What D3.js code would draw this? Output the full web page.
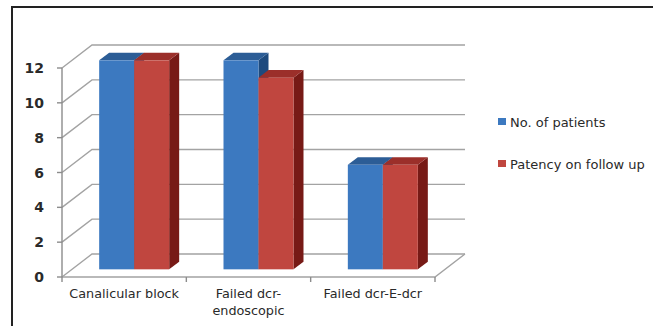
<!DOCTYPE html>
<html>
<head>
<meta charset="utf-8">
<script src="https://cdn.jsdelivr.net/npm/d3@7/dist/d3.min.js"></script>
<style>
  html, body { margin: 0; padding: 0; background: #fff; }
  svg { display: block; }
</style>
</head>
<body>
<svg id="chart" width="653" height="326"></svg>
<script>
// Outcome of cases by indication
const categories = [["Canalicular block"], ["Failed dcr-", "endoscopic"], ["Failed dcr-E-dcr"]];
const categoryKeys = ["Canalicular block", "Failed dcr-endoscopic", "Failed dcr-E-dcr"];
const seriesNames = ["No. of patients", "Patency on follow up"];
const noOfPatients = [12, 12, 6];
const patencyOnFollowUp = [12, 11, 6];
const yTicks = [0, 2, 4, 6, 8, 10, 12];

const seriesValues = [noOfPatients, patencyOnFollowUp];
const palette = [
  { front: "#3c79c0", top: "#2c5d96", side: "#1d4a7e" },
  { front: "#c0463f", top: "#9b2f2a", side: "#771a16" }
];

const svg = d3.select("#chart");

// Chart frame (open on the right and bottom)
svg.append("path")
  .attr("d", "M12,326 L12,7 L653,7")
  .attr("fill", "none").attr("stroke", "#222").attr("stroke-width", 2);

// Front plane of the 3-D box and depth vector
const plot = { left: 62, right: 435, bottom: 277 };
const depth = { dx: 30, dy: -23 };

const y = d3.scaleLinear().domain([0, 12]).range([plot.bottom, plot.bottom - 209]);
const x0 = d3.scaleBand().domain(categoryKeys).range([plot.left, plot.right])
  .paddingInner(0.437).paddingOuter(0.2185);
const x1 = d3.scaleBand().domain(seriesNames).range([0, x0.bandwidth()]);

const grid = svg.append("g").attr("fill", "none").attr("stroke", "#a3a3a3").attr("stroke-width", 1.4);

// Side wall and back wall gridlines
yTicks.forEach(t => {
  const yf = y(t), yb = y(t) + depth.dy;
  grid.append("path")
    .attr("d", `M${plot.left},${yf} L${plot.left + depth.dx},${yb} L${plot.right + depth.dx},${yb}`);
});

// Floor outline
grid.append("path")
  .attr("d", `M${plot.left},${plot.bottom} L${plot.right},${plot.bottom} L${plot.right + depth.dx},${plot.bottom + depth.dy}`);

// Value axis line and ticks
const axisG = svg.append("g").attr("fill", "none").attr("stroke", "#8c8c8c").attr("stroke-width", 1.4);
axisG.append("line").attr("x1", plot.left).attr("x2", plot.left)
  .attr("y1", y(12)).attr("y2", plot.bottom);
yTicks.forEach(t => {
  axisG.append("line").attr("x1", plot.left - 5).attr("x2", plot.left)
    .attr("y1", y(t)).attr("y2", y(t));
});

// Category axis ticks at band boundaries
d3.range(categoryKeys.length + 1).forEach(i => {
  const bx = plot.left + i * x0.step();
  axisG.append("line").attr("x1", bx).attr("x2", bx)
    .attr("y1", plot.bottom).attr("y2", plot.bottom + 5);
});

// Value labels
svg.append("g").selectAll("text").data(yTicks).join("text")
  .attr("x", 44).attr("y", d => y(d)).attr("dy", "0.36em")
  .attr("text-anchor", "end")
  .attr("font-family", "DejaVu Sans, sans-serif").attr("font-size", 14).attr("font-weight", "bold")
  .attr("fill", "#2a2a2a")
  .text(d => d);

// Bars: front face at 1/3 of the depth, back face at 2/3
const front = { dx: depth.dx / 3, dy: depth.dy / 3 };
const barDepth = { dx: depth.dx / 3, dy: depth.dy / 3 };
const bars = svg.append("g");
categoryKeys.forEach((cat, ci) => {
  seriesNames.forEach((s, si) => {
    const v = seriesValues[si][ci];
    const xl = x0(cat) + x1(s) + front.dx;
    const xr = xl + x1.bandwidth();
    const yt = y(v) + front.dy;
    const yb = y(0) + front.dy;
    const c = palette[si];
    const g = bars.append("g");
    // right side
    g.append("path")
      .attr("d", `M${xr},${yt} L${xr + barDepth.dx},${yt + barDepth.dy} L${xr + barDepth.dx},${yb + barDepth.dy} L${xr},${yb} Z`)
      .attr("fill", c.side);
    // top
    g.append("path")
      .attr("d", `M${xl},${yt} L${xl + barDepth.dx},${yt + barDepth.dy} L${xr + barDepth.dx},${yt + barDepth.dy} L${xr},${yt} Z`)
      .attr("fill", c.top);
    // front
    g.append("rect")
      .attr("x", xl).attr("y", yt).attr("width", x1.bandwidth()).attr("height", yb - yt)
      .attr("fill", c.front);
  });
});

// Category labels
const catLabels = svg.append("g")
  .attr("font-family", "DejaVu Sans, sans-serif").attr("font-size", 12.8).attr("fill", "#2a2a2a")
  .attr("text-anchor", "middle");
categoryKeys.forEach((cat, ci) => {
  const cx = plot.left + (ci + 0.5) * x0.step();
  const t = catLabels.append("text").attr("x", cx).attr("y", 298);
  categories[ci].forEach((line, li) => {
    t.append("tspan").attr("x", cx).attr("dy", li === 0 ? 0 : 17).text(line);
  });
});

// Legend
const legend = svg.append("g").attr("font-family", "DejaVu Sans, sans-serif").attr("font-size", 13).attr("fill", "#2a2a2a");
seriesNames.forEach((s, si) => {
  const ly = 122 + si * 42;
  legend.append("rect").attr("x", 498).attr("y", ly - 4).attr("width", 8).attr("height", 7)
    .attr("fill", palette[si].front);
  legend.append("text").attr("x", 510).attr("y", ly).attr("dy", "0.36em").text(s);
});
</script>
</body>
</html>
